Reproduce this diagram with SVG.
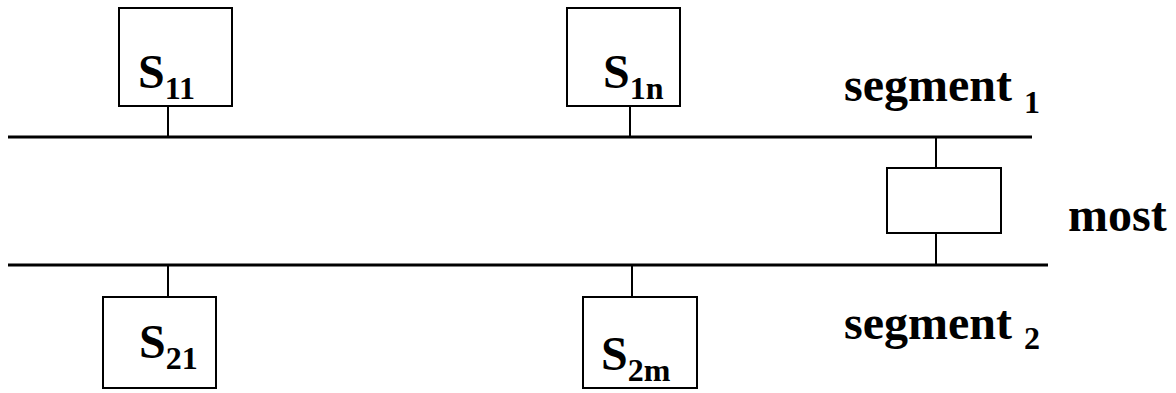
<svg xmlns="http://www.w3.org/2000/svg" width="1176" height="393" viewBox="0 0 1176 393">
  <style>
    .box { fill: #ffffff; stroke: #000000; stroke-width: 2; }
    .bus { stroke: #000000; stroke-width: 3; fill: none; }
    .tap { stroke: #000000; stroke-width: 2; fill: none; }
    .lbl { font-family: "Liberation Serif", "Times New Roman", serif; font-weight: bold; font-size: 48px; fill: #000000; }
    .sub { font-size: 32px; }
  </style>
  <rect width="1176" height="393" fill="#ffffff"/>

  <!-- bus lines and the taps that join stations to them -->
  <g id="connectors">
    <line class="bus" x1="8" y1="137" x2="1032" y2="137"/>
    <line class="bus" x1="8" y1="265" x2="1048" y2="265"/>
    <line class="tap" x1="168" y1="106" x2="168" y2="137"/>
    <line class="tap" x1="630" y1="106" x2="630" y2="137"/>
    <line class="tap" x1="168" y1="265" x2="168" y2="297"/>
    <line class="tap" x1="632" y1="265" x2="632" y2="297"/>
    <line class="tap" x1="936" y1="137" x2="936" y2="168"/>
    <line class="tap" x1="936" y1="233" x2="936" y2="265"/>
  </g>

  <!-- stations on segment 1 -->
  <g id="s11">
    <rect class="box" x="119" y="8" width="113" height="98"/>
    <text class="lbl" x="138" y="88">S<tspan class="sub" dy="11">11</tspan></text>
  </g>
  <g id="s1n">
    <rect class="box" x="567" y="8" width="113" height="98"/>
    <text class="lbl" x="603" y="88">S<tspan class="sub" dy="11">1n</tspan></text>
  </g>

  <!-- stations on segment 2 -->
  <g id="s21">
    <rect class="box" x="103" y="297" width="113" height="91"/>
    <text class="lbl" x="139" y="358">S<tspan class="sub" dy="11">21</tspan></text>
  </g>
  <g id="s2m">
    <rect class="box" x="583" y="297" width="114" height="91"/>
    <text class="lbl" x="601" y="370">S<tspan class="sub" dy="11">2m</tspan></text>
  </g>

  <!-- bridge between the two segments -->
  <g id="bridge">
    <rect class="box" x="887" y="168" width="114" height="65"/>
  </g>

  <!-- labels -->
  <g id="labels">
    <text class="lbl" x="844" y="101">segment <tspan class="sub" dy="12">1</tspan></text>
    <text class="lbl" x="1068" y="231">most</text>
    <text class="lbl" x="844" y="339">segment <tspan class="sub" dy="10">2</tspan></text>
  </g>
</svg>
